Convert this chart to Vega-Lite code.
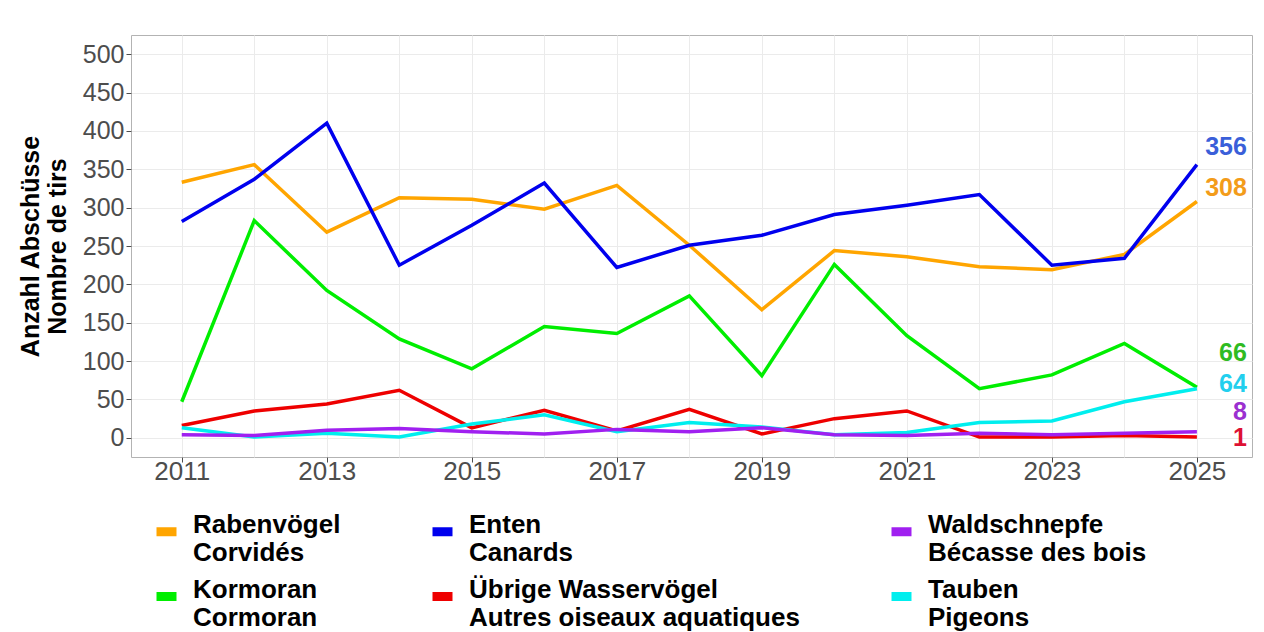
{
  "$schema": "https://vega.github.io/schema/vega-lite/v6.json",
  "width": 1121,
  "height": 422,
  "autosize": {"type": "none"},
  "padding": {"left": 131, "top": 35, "right": 12, "bottom": 175},
  "background": "white",
  "config": {
    "font": "Liberation Sans",
    "view": {"stroke": "#b3b3b3", "strokeWidth": 1}
  },
  "datasets": {
    "series": [
      {"year": 2011, "species": "Rabenvögel|Corvidés", "value": 333},
      {"year": 2012, "species": "Rabenvögel|Corvidés", "value": 356},
      {"year": 2013, "species": "Rabenvögel|Corvidés", "value": 268},
      {"year": 2014, "species": "Rabenvögel|Corvidés", "value": 313},
      {"year": 2015, "species": "Rabenvögel|Corvidés", "value": 311},
      {"year": 2016, "species": "Rabenvögel|Corvidés", "value": 298},
      {"year": 2017, "species": "Rabenvögel|Corvidés", "value": 329},
      {"year": 2018, "species": "Rabenvögel|Corvidés", "value": 251},
      {"year": 2019, "species": "Rabenvögel|Corvidés", "value": 167},
      {"year": 2020, "species": "Rabenvögel|Corvidés", "value": 244},
      {"year": 2021, "species": "Rabenvögel|Corvidés", "value": 236},
      {"year": 2022, "species": "Rabenvögel|Corvidés", "value": 223},
      {"year": 2023, "species": "Rabenvögel|Corvidés", "value": 219},
      {"year": 2024, "species": "Rabenvögel|Corvidés", "value": 239},
      {"year": 2025, "species": "Rabenvögel|Corvidés", "value": 308},
      {"year": 2011, "species": "Enten|Canards", "value": 282},
      {"year": 2012, "species": "Enten|Canards", "value": 337},
      {"year": 2013, "species": "Enten|Canards", "value": 410},
      {"year": 2014, "species": "Enten|Canards", "value": 225},
      {"year": 2015, "species": "Enten|Canards", "value": 277},
      {"year": 2016, "species": "Enten|Canards", "value": 332},
      {"year": 2017, "species": "Enten|Canards", "value": 222},
      {"year": 2018, "species": "Enten|Canards", "value": 251},
      {"year": 2019, "species": "Enten|Canards", "value": 264},
      {"year": 2020, "species": "Enten|Canards", "value": 291},
      {"year": 2021, "species": "Enten|Canards", "value": 303},
      {"year": 2022, "species": "Enten|Canards", "value": 317},
      {"year": 2023, "species": "Enten|Canards", "value": 225},
      {"year": 2024, "species": "Enten|Canards", "value": 234},
      {"year": 2025, "species": "Enten|Canards", "value": 356},
      {"year": 2011, "species": "Kormoran|Cormoran", "value": 47},
      {"year": 2012, "species": "Kormoran|Cormoran", "value": 283},
      {"year": 2013, "species": "Kormoran|Cormoran", "value": 192},
      {"year": 2014, "species": "Kormoran|Cormoran", "value": 129},
      {"year": 2015, "species": "Kormoran|Cormoran", "value": 90},
      {"year": 2016, "species": "Kormoran|Cormoran", "value": 145},
      {"year": 2017, "species": "Kormoran|Cormoran", "value": 136},
      {"year": 2018, "species": "Kormoran|Cormoran", "value": 185},
      {"year": 2019, "species": "Kormoran|Cormoran", "value": 81},
      {"year": 2020, "species": "Kormoran|Cormoran", "value": 226},
      {"year": 2021, "species": "Kormoran|Cormoran", "value": 133},
      {"year": 2022, "species": "Kormoran|Cormoran", "value": 64},
      {"year": 2023, "species": "Kormoran|Cormoran", "value": 82},
      {"year": 2024, "species": "Kormoran|Cormoran", "value": 123},
      {"year": 2025, "species": "Kormoran|Cormoran", "value": 66},
      {"year": 2011, "species": "Übrige Wasservögel|Autres oiseaux aquatiques", "value": 16},
      {"year": 2012, "species": "Übrige Wasservögel|Autres oiseaux aquatiques", "value": 35},
      {"year": 2013, "species": "Übrige Wasservögel|Autres oiseaux aquatiques", "value": 44},
      {"year": 2014, "species": "Übrige Wasservögel|Autres oiseaux aquatiques", "value": 62},
      {"year": 2015, "species": "Übrige Wasservögel|Autres oiseaux aquatiques", "value": 13},
      {"year": 2016, "species": "Übrige Wasservögel|Autres oiseaux aquatiques", "value": 36},
      {"year": 2017, "species": "Übrige Wasservögel|Autres oiseaux aquatiques", "value": 9},
      {"year": 2018, "species": "Übrige Wasservögel|Autres oiseaux aquatiques", "value": 37},
      {"year": 2019, "species": "Übrige Wasservögel|Autres oiseaux aquatiques", "value": 5},
      {"year": 2020, "species": "Übrige Wasservögel|Autres oiseaux aquatiques", "value": 25},
      {"year": 2021, "species": "Übrige Wasservögel|Autres oiseaux aquatiques", "value": 35},
      {"year": 2022, "species": "Übrige Wasservögel|Autres oiseaux aquatiques", "value": 1},
      {"year": 2023, "species": "Übrige Wasservögel|Autres oiseaux aquatiques", "value": 1},
      {"year": 2024, "species": "Übrige Wasservögel|Autres oiseaux aquatiques", "value": 3},
      {"year": 2025, "species": "Übrige Wasservögel|Autres oiseaux aquatiques", "value": 1},
      {"year": 2011, "species": "Tauben|Pigeons", "value": 13},
      {"year": 2012, "species": "Tauben|Pigeons", "value": 1},
      {"year": 2013, "species": "Tauben|Pigeons", "value": 6},
      {"year": 2014, "species": "Tauben|Pigeons", "value": 1},
      {"year": 2015, "species": "Tauben|Pigeons", "value": 18},
      {"year": 2016, "species": "Tauben|Pigeons", "value": 30},
      {"year": 2017, "species": "Tauben|Pigeons", "value": 8},
      {"year": 2018, "species": "Tauben|Pigeons", "value": 20},
      {"year": 2019, "species": "Tauben|Pigeons", "value": 14},
      {"year": 2020, "species": "Tauben|Pigeons", "value": 4},
      {"year": 2021, "species": "Tauben|Pigeons", "value": 7},
      {"year": 2022, "species": "Tauben|Pigeons", "value": 20},
      {"year": 2023, "species": "Tauben|Pigeons", "value": 22},
      {"year": 2024, "species": "Tauben|Pigeons", "value": 47},
      {"year": 2025, "species": "Tauben|Pigeons", "value": 64},
      {"year": 2011, "species": "Waldschnepfe|Bécasse des bois", "value": 4},
      {"year": 2012, "species": "Waldschnepfe|Bécasse des bois", "value": 3},
      {"year": 2013, "species": "Waldschnepfe|Bécasse des bois", "value": 10},
      {"year": 2014, "species": "Waldschnepfe|Bécasse des bois", "value": 12},
      {"year": 2015, "species": "Waldschnepfe|Bécasse des bois", "value": 8},
      {"year": 2016, "species": "Waldschnepfe|Bécasse des bois", "value": 5},
      {"year": 2017, "species": "Waldschnepfe|Bécasse des bois", "value": 11},
      {"year": 2018, "species": "Waldschnepfe|Bécasse des bois", "value": 8},
      {"year": 2019, "species": "Waldschnepfe|Bécasse des bois", "value": 13},
      {"year": 2020, "species": "Waldschnepfe|Bécasse des bois", "value": 4},
      {"year": 2021, "species": "Waldschnepfe|Bécasse des bois", "value": 3},
      {"year": 2022, "species": "Waldschnepfe|Bécasse des bois", "value": 6},
      {"year": 2023, "species": "Waldschnepfe|Bécasse des bois", "value": 4},
      {"year": 2024, "species": "Waldschnepfe|Bécasse des bois", "value": 6},
      {"year": 2025, "species": "Waldschnepfe|Bécasse des bois", "value": 8}
    ],
    "labels": [
      {"year": 2025, "species": "Enten|Canards", "value": 356, "labelY": 379},
      {"year": 2025, "species": "Rabenvögel|Corvidés", "value": 308, "labelY": 325},
      {"year": 2025, "species": "Kormoran|Cormoran", "value": 66, "labelY": 111},
      {"year": 2025, "species": "Tauben|Pigeons", "value": 64, "labelY": 70},
      {"year": 2025, "species": "Waldschnepfe|Bécasse des bois", "value": 8, "labelY": 34},
      {"year": 2025, "species": "Übrige Wasservögel|Autres oiseaux aquatiques", "value": 1, "labelY": 0}
    ]
  },
  "layer": [
    {
      "data": {"name": "series"},
      "mark": {"type": "line", "strokeWidth": 3.5, "clip": true},
      "encoding": {
        "x": {
          "field": "year",
          "type": "quantitative",
          "scale": {"domain": [2010.3, 2025.76], "nice": false, "zero": false},
          "axis": {
            "title": null,
            "values": [2011, 2012, 2013, 2014, 2015, 2016, 2017, 2018, 2019, 2020, 2021, 2022, 2023, 2024, 2025],
            "labelExpr": "datum.value % 2 === 1 ? datum.value : ''",
            "format": "d",
            "domain": false,
            "grid": true,
            "gridColor": "#ebebeb",
            "gridWidth": 1,
            "tickColor": {"condition": {"test": "datum.value % 2 === 1", "value": "#4d4d4d"}, "value": "transparent"},
            "tickSize": 5,
            "labelFontSize": 26,
            "labelColor": "#4d4d4d",
            "labelPadding": -4,
            "labelFlush": false
          }
        },
        "y": {
          "field": "value",
          "type": "quantitative",
          "scale": {"domain": [-25, 525], "nice": false, "zero": false},
          "axis": {
            "title": ["Anzahl Abschüsse", "Nombre de tirs"],
            "titleFontSize": 25,
            "titleFontWeight": "bold",
            "titleColor": "black",
            "titleLineHeight": 27,
            "titlePadding": 12,
            "values": [0, 25, 50, 75, 100, 125, 150, 175, 200, 225, 250, 275, 300, 325, 350, 375, 400, 425, 450, 475, 500],
            "labelExpr": "datum.value % 50 === 0 ? datum.label : ''",
            "domain": false,
            "grid": true,
            "gridColor": "#ebebeb",
            "gridWidth": 1,
            "tickColor": {"condition": {"test": "datum.value % 50 === 0", "value": "#4d4d4d"}, "value": "transparent"},
            "tickSize": 5,
            "labelFontSize": 25,
            "labelColor": "#4d4d4d",
            "labelPadding": 2,
            "labelFlush": false
          }
        },
        "color": {
          "field": "species",
          "type": "nominal",
          "scale": {
            "domain": ["Rabenvögel|Corvidés", "Enten|Canards", "Waldschnepfe|Bécasse des bois", "Kormoran|Cormoran", "Übrige Wasservögel|Autres oiseaux aquatiques", "Tauben|Pigeons"],
            "range": ["#ffa500", "#0000ee", "#a020f0", "#00ee00", "#ee0000", "#00eeee"]
          },
          "legend": {
            "title": null,
            "orient": "none",
            "legendX": 21,
            "legendY": 475,
            "direction": "horizontal",
            "columns": 3,
            "columnPadding": 73,
            "rowPadding": 9,
            "labelExpr": "split(datum.label, '|')",
            "labelFontSize": 26,
            "labelFontWeight": "bold",
            "labelColor": "black",
            "labelLineHeight": 28,
            "labelOffset": 12,
            "labelLimit": 500,
            "symbolType": "M-1,0.7H1",
            "symbolStrokeWidth": 9,
            "symbolSize": 400
          }
        },
        "order": {"field": "year", "type": "quantitative"}
      }
    },
    {
      "data": {"name": "labels"},
      "mark": {"type": "text", "align": "right", "baseline": "middle", "dx": 50, "fontSize": 25, "fontWeight": "bold"},
      "encoding": {
        "x": {"field": "year", "type": "quantitative"},
        "y": {"field": "labelY", "type": "quantitative"},
        "text": {"field": "value", "type": "quantitative"},
        "fill": {
          "field": "species",
          "type": "nominal",
          "scale": {
            "domain": ["Rabenvögel|Corvidés", "Enten|Canards", "Waldschnepfe|Bécasse des bois", "Kormoran|Cormoran", "Übrige Wasservögel|Autres oiseaux aquatiques", "Tauben|Pigeons"],
            "range": ["#f39c1a", "#3a5fd9", "#9b30d0", "#2fbb22", "#dd1133", "#22cfee"]
          },
          "legend": null
        }
      }
    }
  ]
}
